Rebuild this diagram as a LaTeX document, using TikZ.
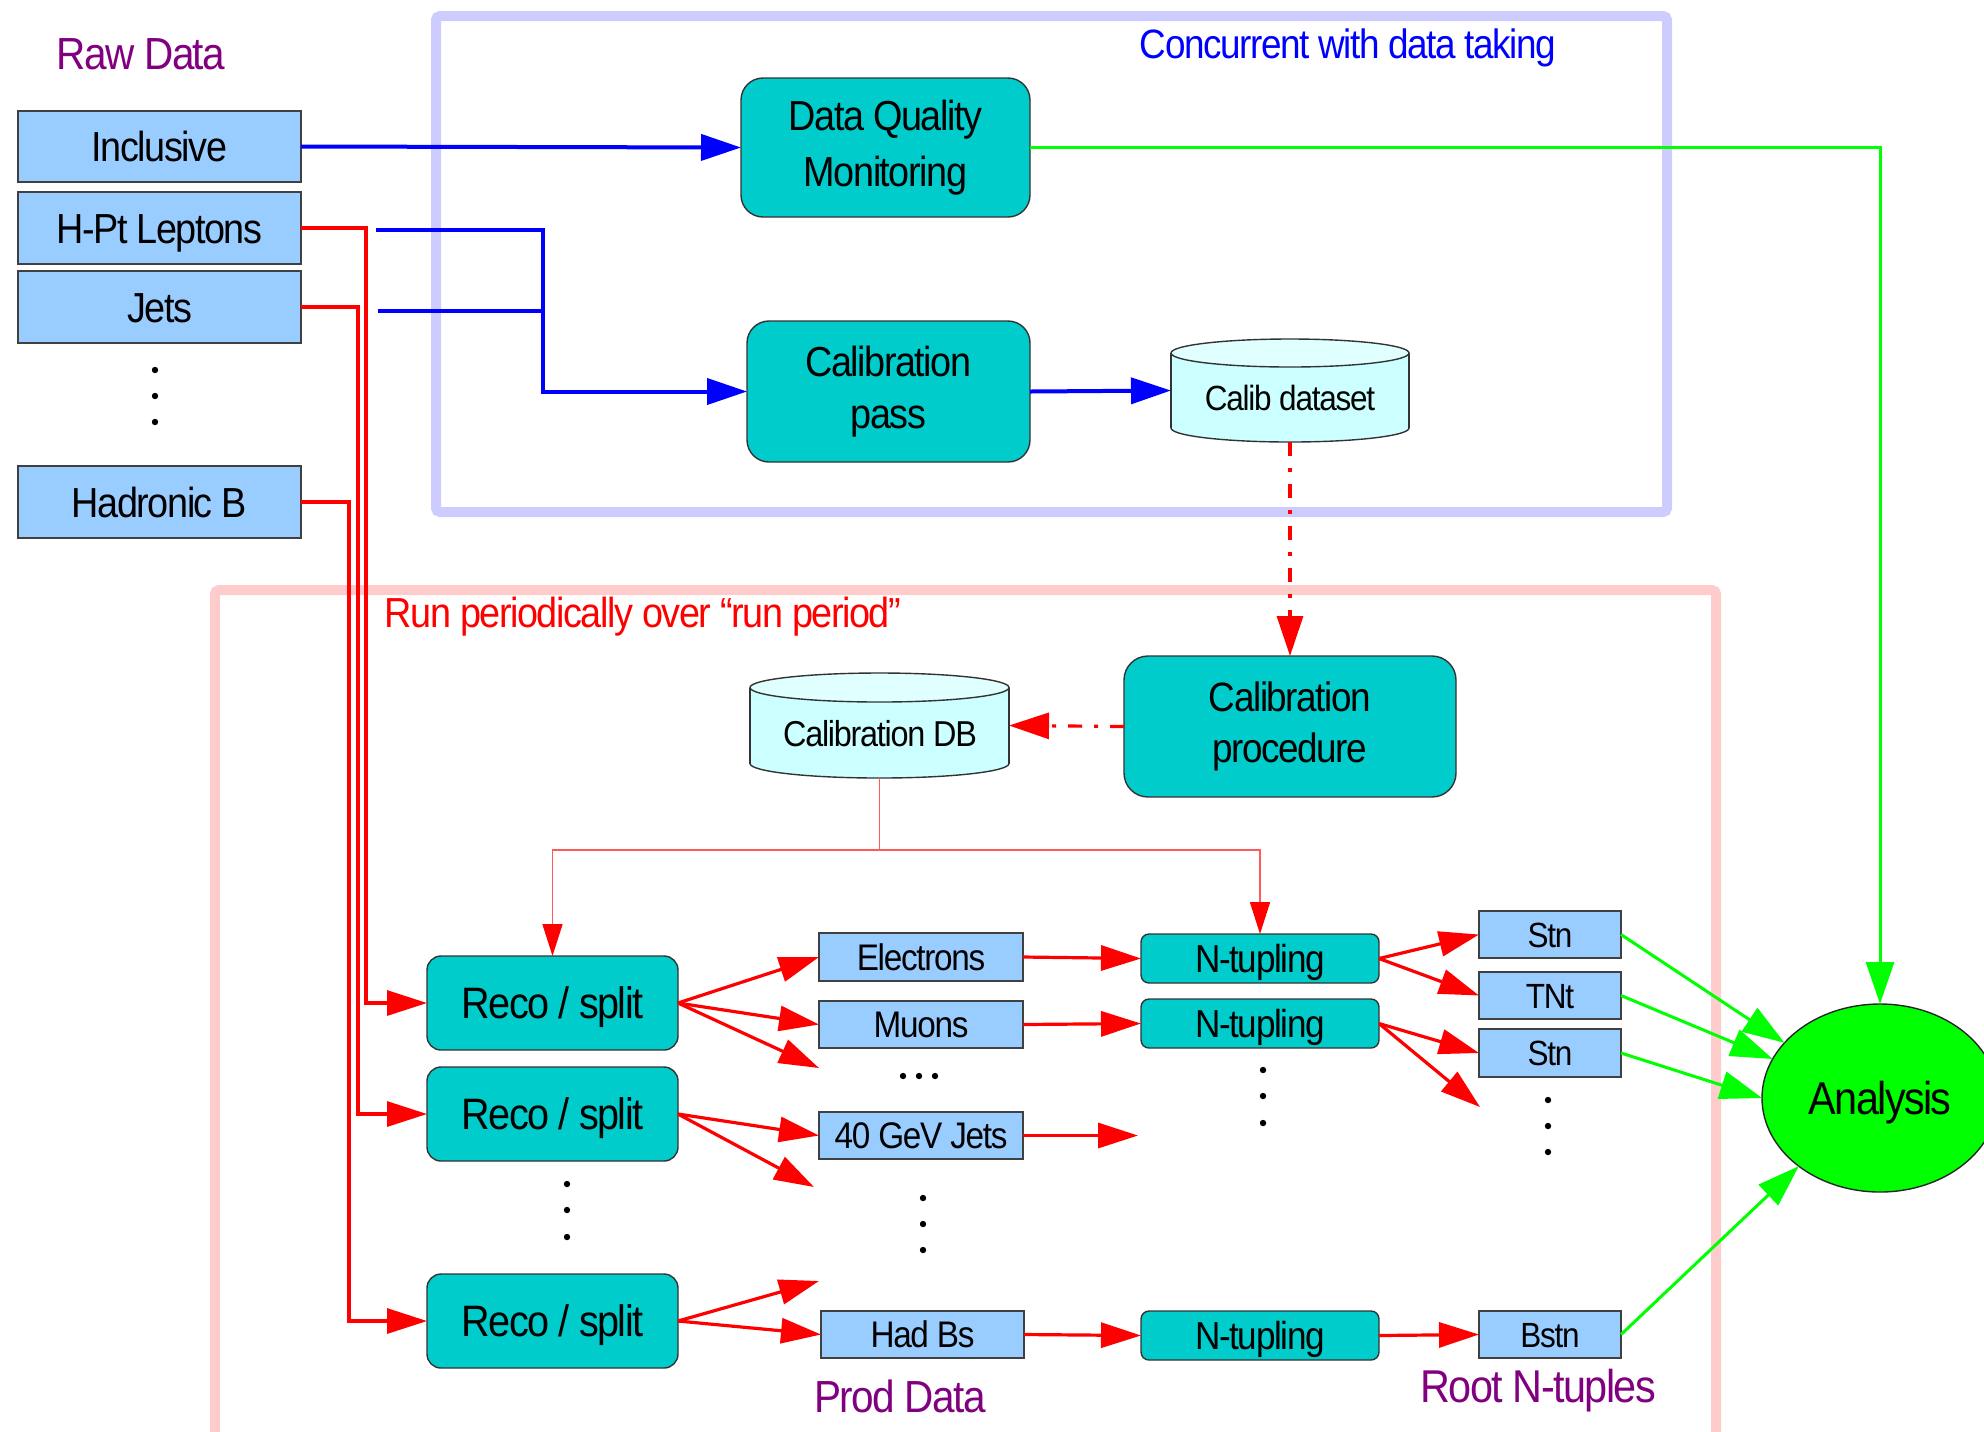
\documentclass[tikz,border=0pt]{standalone}
\usepackage{fontspec}
\setmainfont{Liberation Sans}[FakeStretch=0.9,LetterSpace=-3.5]
\usetikzlibrary{arrows.meta,shapes.geometric,calc}

\definecolor{procteal}{HTML}{00CCCC}
\definecolor{dataBlue}{HTML}{99CCFF}
\definecolor{cylFill}{HTML}{CCFFFF}
\definecolor{cylTop}{HTML}{E0FFFF}
\definecolor{frameBlue}{HTML}{CCCCFF}
\definecolor{framePink}{HTML}{FFCCCC}
\definecolor{lblPurple}{HTML}{800080}
\definecolor{pureGreen}{HTML}{00FF00}
\definecolor{pureBlue}{HTML}{0000FF}
\definecolor{pureRed}{HTML}{FF0000}
\definecolor{softRed}{HTML}{FF5A5A}

\newcommand{\fsz}[1]{\fontsize{#1pt}{1.2\dimexpr#1pt\relax}\selectfont}

\begin{document}
\begin{tikzpicture}[x=0.5pt,y=-0.5pt,
  every node/.style={inner sep=0pt,outer sep=0pt},
  % a box given by its left, top, right and bottom edges (in pixels)
  spanbox/.style n args={4}{minimum width={(#3-#1)*0.5pt},minimum height={(#4-#2)*0.5pt},
    at={({(#1+#3)/2},{(#2+#4)/2})}},
  rawbox/.style={draw=black!75,line width=0.7pt,fill=dataBlue,font=\fsz{21},
    text height=15.1pt,text depth=0pt},
  prodbox/.style={draw=black!75,line width=0.7pt,fill=dataBlue,font=\fsz{18.5},
    text height=13.3pt,text depth=0pt},
  rootbox/.style={draw=black!75,line width=0.7pt,fill=dataBlue,font=\fsz{17.5},
    text height=12.6pt,text depth=0pt},
  bigproc/.style={draw=black!80,line width=0.7pt,fill=procteal,rounded corners=11pt,align=center},
  recobox/.style={draw=black!80,line width=0.7pt,fill=procteal,rounded corners=7pt,font=\fsz{22},
    text height=15.8pt,text depth=0pt},
  ntbox/.style={draw=black!80,line width=0.7pt,fill=procteal,rounded corners=4pt,font=\fsz{19.5},
    text height=14pt,text depth=0pt},
  cylline/.style={draw=black!80,line width=0.7pt},
  bluearrow/.style={pureBlue,line width=2pt,-{Triangle[length=20pt,width=13pt]}},
  blueline/.style={pureBlue,line width=2pt},
  redarrow/.style={pureRed,line width=1.6pt,-{Triangle[length=20pt,width=12.5pt]}},
  greenarrow/.style={pureGreen,line width=1.5pt,-{Triangle[length=21pt,width=14pt]}},
  reddashdot/.style={pureRed,line width=1.6pt,dash pattern=on 7pt off 6pt on 2pt off 6pt,
    -{Triangle[length=20pt,width=13pt]}},
  thinred/.style={softRed,line width=0.8pt,-{Triangle[length=16pt,width=10pt,color=pureRed]}},
  dotmark/.style={fill=black}
]
\useasboundingbox (0,0) rectangle (1984,1431);

% ---- group frames ----
\draw[frameBlue,line width=5pt,rounded corners=2pt] (436,16) rectangle (1667,512);
\draw[framePink,line width=5pt,rounded corners=2pt] (215,590) rectangle (1716,1470);

% ---- frame captions and labels ----
\node[text=lblPurple,font=\fsz{22.5}] (rawlbl) at (141,54) {Raw Data};
\node[text=pureBlue,font=\fsz{20.5}] (conclbl) at (1348,48) {Concurrent with data taking};
\node[text=pureRed,font=\fsz{21}] (runlbl) at (643,617) {Run periodically over “run period”};
\node[text=lblPurple,font=\fsz{22.5}] (prodlbl) at (900,1396) {Prod Data};
\node[text=lblPurple,font=\fsz{23}] (rootlbl) at (1538,1391) {Root N-tuples};

% ---- raw data streams ----
\node[rawbox,spanbox={18}{111}{301}{182}] (incl) {Inclusive};
\node[rawbox,spanbox={18}{192}{301}{264}] (hpt) {H-Pt Leptons};
\node[rawbox,spanbox={18}{271}{301}{343}] (jets) {Jets};
\node[rawbox,spanbox={18}{466}{301}{538}] (hadb) {Hadronic B};
\foreach \yy in {370,396,422} \fill[dotmark] (155,\yy) circle[radius=1.6pt];

% ---- online processing ----
\node[bigproc,font=\fsz{21},spanbox={741}{78}{1030}{217}] (dqm)
  {Data Quality\\[2.5pt]Monitoring};
\node[bigproc,font=\fsz{21},spanbox={747}{321}{1030}{462}] (calpass)
  {Calibration\\[0.5pt]pass};

% calibration dataset cylinder
\fill[cylFill] (1290,428) ellipse[x radius=119,y radius=14];
\draw[cylline] (1290,428) ellipse[x radius=119,y radius=14];
\fill[cylFill] (1171,353) rectangle (1409,428);
\draw[cylline] (1171,353) -- (1171,428) (1409,353) -- (1409,428);
\fill[cylTop] (1290,353) ellipse[x radius=119,y radius=14];
\draw[cylline] (1290,353) ellipse[x radius=119,y radius=14];
\node[spanbox={1171}{339}{1409}{442}] (calibds) {};
\node[font=\fsz{17.5},text height=12.6pt,text depth=0pt] (calibdstxt) at (1290,398) {Calib dataset};

% ---- periodic processing ----
\node[bigproc,font=\fsz{20.5},rounded corners=12pt,spanbox={1124}{656}{1456}{797}] (calproc)
  {Calibration\\[1pt]procedure};

% calibration database cylinder
\fill[cylFill] (879.5,763.5) ellipse[x radius=129.5,y radius=14.5];
\draw[cylline] (879.5,763.5) ellipse[x radius=129.5,y radius=14.5];
\fill[cylFill] (750,687.5) rectangle (1009,763.5);
\draw[cylline] (750,687.5) -- (750,763.5) (1009,687.5) -- (1009,763.5);
\fill[cylTop] (879.5,687.5) ellipse[x radius=129.5,y radius=14.5];
\draw[cylline] (879.5,687.5) ellipse[x radius=129.5,y radius=14.5];
\node[spanbox={750}{673}{1009}{778}] (caldb) {};
\node[font=\fsz{18},text height=13pt,text depth=0pt] (caldbtxt) at (880,733) {Calibration DB};

% reconstruction
\node[recobox,spanbox={427}{956}{678}{1050}] (reco1) {Reco / split};
\node[recobox,spanbox={427}{1067}{678}{1161}] (reco2) {Reco / split};
\node[recobox,spanbox={427}{1274}{678}{1368}] (reco3) {Reco / split};
\foreach \yy in {1184,1210,1237} \fill[dotmark] (567,\yy) circle[radius=1.6pt];

% production datasets
\node[prodbox,spanbox={819}{933}{1023}{981}] (elec) {Electrons};
\node[prodbox,spanbox={819}{1001}{1023}{1048}] (muons) {Muons};
\node[prodbox,spanbox={819}{1112}{1023}{1159}] (jets40) {40 GeV Jets};
\node[prodbox,spanbox={821}{1311}{1024}{1358}] (hadbs) {Had Bs};
\foreach \xx in {903,919,935} \fill[dotmark] (\xx,1076) circle[radius=1.6pt];
\foreach \yy in {1198,1224,1250} \fill[dotmark] (923,\yy) circle[radius=1.6pt];

% n-tupling
\node[ntbox,spanbox={1141}{934}{1379}{983}] (nt1) {N-tupling};
\node[ntbox,spanbox={1141}{999}{1379}{1048}] (nt2) {N-tupling};
\node[ntbox,spanbox={1141}{1311}{1379}{1360}] (nt3) {N-tupling};
\foreach \yy in {1070,1096,1123} \fill[dotmark] (1263,\yy) circle[radius=1.6pt];

% root n-tuples
\node[rootbox,spanbox={1479}{911}{1621}{958}] (stn1) {Stn};
\node[rootbox,spanbox={1479}{972}{1621}{1019}] (tnt) {TNt};
\node[rootbox,spanbox={1479}{1029}{1621}{1077}] (stn2) {Stn};
\node[rootbox,spanbox={1479}{1311}{1621}{1358}] (bstn) {Bstn};
\foreach \yy in {1100,1126,1152} \fill[dotmark] (1548,\yy) circle[radius=1.6pt];

% analysis
\node[ellipse,draw=black!85,line width=0.7pt,fill=pureGreen,minimum width=118pt,
  minimum height=94pt,font=\fsz{23},text height=16.6pt,text depth=0pt] (analysis) at (1880,1098) {Analysis};

% ---- free arrow ends ----
\coordinate (r1free) at (819,1068);
\coordinate (r2free) at (814,1187);
\coordinate (r3free) at (819,1281);
\coordinate (jfree) at (1138,1135.5);
\coordinate (n2free) at (1480,1107);

% ---- online flow ----
\draw[bluearrow] (incl.east) -- (dqm.west);
\draw[bluearrow] ($(hpt.east)+(75,2)$) -| ($(calpass.west)+(-204,0)$) -- (calpass.west);
\draw[blueline] ($(jets.east)+(77,4)$) -- ++(166,0);
\draw[bluearrow] (calpass.east) -- (calibds.west);
\draw[greenarrow] (dqm.east) -| (analysis.north);

% ---- calibration loop ----
\draw[reddashdot] (calibds.south) -- (calproc.north);
\draw[reddashdot] (calproc.west) -- (caldb.east);
\coordinate (dbj) at ($(caldb.south)+(0,72)$);
\draw[thinred] (caldb.south) -- (dbj) -| (reco1.north);
\draw[thinred] (dbj) -| (nt1.north);

% ---- raw data into reconstruction ----
\draw[redarrow] (hpt.east) -- ++(65,0) |- (reco1.west);
\draw[redarrow] (jets.east) -- ++(57,0) |- (reco2.west);
\draw[redarrow] (hadb.east) -- ++(48,0) |- (reco3.west);

% ---- reconstruction outputs ----
\draw[redarrow] (reco1.east) -- (elec.west);
\draw[redarrow] (reco1.east) -- (muons.west);
\draw[redarrow] (reco1.east) -- (r1free);
\draw[redarrow] (reco2.east) -- (jets40.west);
\draw[redarrow] (reco2.east) -- (r2free);
\draw[redarrow] (reco3.east) -- (r3free);
\draw[redarrow] (reco3.east) -- (hadbs.west);

% ---- n-tupling ----
\draw[redarrow] (elec.east) -- (nt1.west);
\draw[redarrow] (muons.east) -- (nt2.west);
\draw[redarrow] (jets40.east) -- (jfree);
\draw[redarrow] (hadbs.east) -- (nt3.west);
\draw[redarrow] (nt1.east) -- (stn1.west);
\draw[redarrow] (nt1.east) -- (tnt.west);
\draw[redarrow] (nt2.east) -- (stn2.west);
\draw[redarrow] (nt2.east) -- (n2free);
\draw[redarrow] (nt3.east) -- (bstn.west);

% ---- into analysis ----
\draw[greenarrow] (stn1.east) -- (analysis.150);
\draw[greenarrow] (tnt.east) -- (analysis.160);
\draw[greenarrow] (stn2.east) -- (analysis.west);
\draw[greenarrow] (bstn.east) -- (analysis.220);
\end{tikzpicture}
\end{document}
